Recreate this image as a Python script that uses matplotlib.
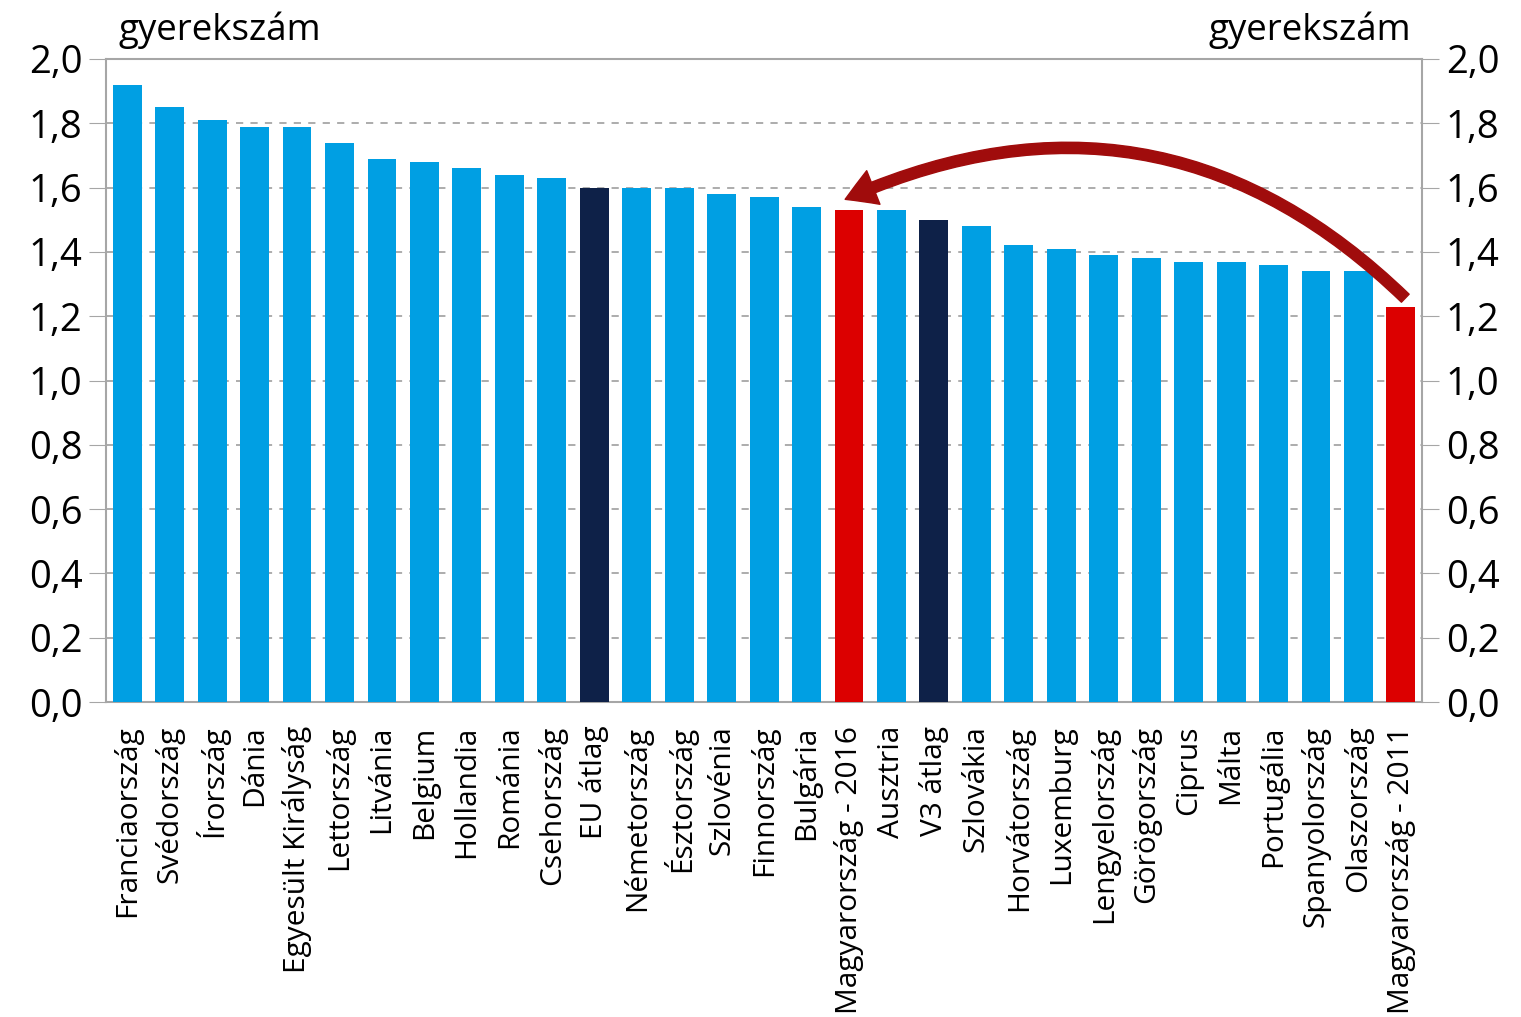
import matplotlib.pyplot as plt
from matplotlib.patches import FancyArrowPatch

# teljes termékenységi arányszám, 2016 (+ Magyarország 2011)
orszagok = ["Franciaország", "Svédország", "Írország", "Dánia", "Egyesült Királyság",
            "Lettország", "Litvánia", "Belgium", "Hollandia", "Románia", "Csehország",
            "EU átlag", "Németország", "Észtország", "Szlovénia", "Finnország", "Bulgária",
            "Magyarország - 2016", "Ausztria", "V3 átlag", "Szlovákia", "Horvátország",
            "Luxemburg", "Lengyelország", "Görögország", "Ciprus", "Málta", "Portugália",
            "Spanyolország", "Olaszország", "Magyarország - 2011"]
ertekek = [1.92, 1.85, 1.81, 1.79, 1.79, 1.74, 1.69, 1.68, 1.66, 1.64, 1.63,
           1.60, 1.60, 1.60, 1.58, 1.57, 1.54, 1.53, 1.53, 1.50, 1.48, 1.42,
           1.41, 1.39, 1.38, 1.37, 1.37, 1.36, 1.34, 1.34, 1.23]
atlagok = ["EU átlag", "V3 átlag"]
magyar = ["Magyarország - 2016", "Magyarország - 2011"]
yticks = [0.0, 0.2, 0.4, 0.6, 0.8, 1.0, 1.2, 1.4, 1.6, 1.8, 2.0]

kek = "#009FE3"
sotet = "#0E2148"
piros = "#DC0000"
szurke = "#A6A6A6"

plt.rcParams["font.family"] = ["Open Sans", "DejaVu Sans"]

szinek = []
for o in orszagok:
    if o in atlagok:
        szinek.append(sotet)
    elif o in magyar:
        szinek.append(piros)
    else:
        szinek.append(kek)

fig = plt.figure(figsize=(15.21, 10.17), dpi=100)
ax = fig.add_axes([0.0697, 0.3097, 0.8653, 0.6323])

x = list(range(len(orszagok)))
ax.bar(x, ertekek, width=0.68, color=szinek, zorder=3)

ax.set_xlim(-0.5, len(orszagok) - 0.5)
ax.set_ylim(0, 2.0)
ax.set_yticks(yticks)
ax.set_yticklabels([f"{v:.1f}".replace(".", ",") for v in yticks])
ax.set_xticks(x)
ax.set_xticklabels(orszagok, rotation=90, fontsize=21.5)

ax.tick_params(axis="y", which="both", left=True, right=True, labelleft=True,
               labelright=True, length=12, color=szurke, labelsize=27.5, pad=5)
ax.tick_params(axis="x", length=0, pad=17)

ax.grid(axis="y", linestyle=(0, (4, 4)), color=szurke, linewidth=1.3, zorder=0)
for s in ax.spines.values():
    s.set_color(szurke)
    s.set_linewidth(1.5)

fig.text(0.078, 0.970, "gyerekszám", fontsize=26.5, ha="left", va="center")
fig.text(0.928, 0.970, "gyerekszám", fontsize=26.5, ha="right", va="center")

# ív alakú nyíl 2011-ről 2016-ra
i11 = orszagok.index("Magyarország - 2011")
i16 = orszagok.index("Magyarország - 2016")
nyil = FancyArrowPatch((i11 + 0.15, ertekek[i11] + 0.02), (i16 - 0.15, ertekek[i16] + 0.03),
                       connectionstyle="arc3,rad=0.34",
                       arrowstyle="simple,head_width=26,head_length=22,tail_width=8",
                       color="#A00C0C", zorder=5)
ax.add_patch(nyil)

fig.savefig("out.png", dpi=100)
